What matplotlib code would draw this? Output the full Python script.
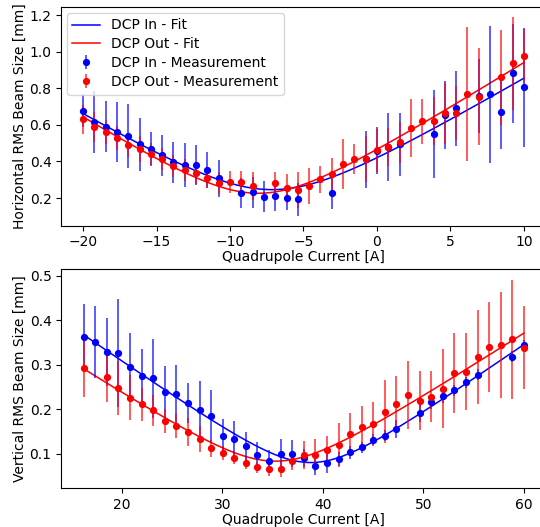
import matplotlib
matplotlib.use("Agg")
import matplotlib.pyplot as plt
import numpy as np

plt.rcParams.update({
    "font.family": "DejaVu Sans",
    "font.size": 10,
    "axes.labelsize": 10,
    "xtick.labelsize": 10,
    "ytick.labelsize": 10,
    "legend.fontsize": 10,
})

nan = np.nan

# ── horizontal scan ──────────────────────────────────────────────
h_current = [-20.0, -19.23, -18.46, -17.69, -16.92, -16.15, -15.38, -14.62,
             -13.85, -13.08, -12.31, -11.54, -10.77, -10.0, -9.23, -8.46,
             -7.69, -6.92, -6.15, -5.38, -4.62, -3.85, -3.08, -2.31, -1.54,
             -0.77, 0.0, 0.77, 1.54, 2.31, 3.08, 3.85, 4.62, 5.38, 6.15,
             6.92, 7.69, 8.46, 9.23, 10.0]
h_in = [0.677, 0.617, 0.590, 0.561, 0.537, 0.495, 0.468, 0.433, 0.395, 0.379,
        0.380, 0.353, 0.308, nan, 0.229, 0.231, 0.207, 0.213, 0.198, 0.193,
        nan, nan, 0.226, nan, nan, 0.411, 0.459, 0.480, 0.493, nan,
        nan, 0.550, 0.654, 0.690, nan, 0.757, 0.767, 0.672, 0.881, 0.805]
h_in_err = [0.09, 0.17, 0.14, 0.165, 0.175, 0.145, 0.095, 0.11, 0.112, 0.12,
            0.11, 0.10, 0.10, nan, 0.082, 0.084, 0.084, 0.082, 0.065, 0.09,
            nan, nan, 0.085, nan, nan, 0.158, 0.128, 0.185, 0.172, nan,
            nan, 0.242, 0.186, 0.203, nan, 0.20, 0.373, 0.204, 0.27, 0.326]
h_out = [0.630, 0.588, 0.561, 0.530, 0.490, 0.468, 0.439, 0.411, 0.377, 0.355,
         0.335, 0.308, 0.282, 0.289, 0.289, 0.267, nan, 0.280, 0.253, 0.242,
         0.266, 0.302, 0.331, 0.386, 0.411, 0.414, 0.462, 0.480, 0.504, 0.581,
         0.619, 0.622, 0.663, 0.663, 0.767, 0.754, nan, 0.860, 0.936, 0.976]
h_out_err = [0.08, 0.08, 0.065, 0.065, 0.065, 0.07, 0.06, 0.06, 0.06, 0.06,
             0.06, 0.055, 0.06, 0.06, 0.06, 0.075, nan, 0.06, 0.08, 0.098,
             0.10, 0.072, 0.087, 0.134, 0.082, 0.125, 0.117, 0.104, 0.11, 0.158,
             0.124, 0.13, 0.168, 0.148, 0.367, 0.266, nan, 0.26, 0.255, 0.15]

# ── vertical scan ────────────────────────────────────────────────
v_current = [16.2, 17.35, 18.51, 19.66, 20.81, 21.96, 23.12, 24.27, 25.42,
             26.57, 27.73, 28.88, 30.03, 31.18, 32.34, 33.49, 34.64, 35.79,
             36.95, 38.1, 39.25, 40.41, 41.56, 42.71, 43.86, 45.02, 46.17,
             47.32, 48.47, 49.63, 50.78, 51.93, 53.08, 54.24, 55.39, 56.54,
             57.69, 58.85, 60.0]
v_in = [0.361, 0.351, 0.328, 0.326, 0.294, 0.275, 0.269, 0.238, 0.234, 0.213,
        0.199, 0.184, 0.139, 0.133, 0.117, 0.097, 0.084, 0.099, 0.100, 0.090,
        0.072, 0.078, 0.088, 0.103, 0.114, 0.131, 0.140, 0.155, nan, 0.192,
        0.215, 0.229, 0.242, 0.260, 0.277, nan, nan, 0.318, 0.344]
v_in_err = [0.075, 0.081, 0.076, 0.121, 0.076, 0.059, 0.088, 0.059, 0.065, 0.045,
            0.064, 0.058, 0.039, 0.04, 0.032, 0.029, 0.025, 0.034, 0.03, 0.02,
            0.02, 0.022, 0.015, 0.015, 0.012, 0.012, 0.012, 0.02, nan, 0.02,
            0.015, 0.015, 0.012, 0.012, 0.012, nan, nan, 0.012, 0.012]
v_out = [0.292, nan, 0.272, 0.248, 0.226, 0.211, 0.197, 0.174, 0.163, 0.149,
         0.133, 0.112, 0.101, 0.089, 0.079, 0.069, 0.065, 0.066, 0.084, 0.097,
         0.096, 0.107, 0.119, 0.144, 0.160, 0.166, 0.194, 0.211, 0.232, 0.219,
         0.228, 0.246, 0.281, 0.284, 0.317, 0.340, 0.344, 0.357, 0.338]
v_out_err = [0.064, nan, 0.057, 0.061, 0.051, 0.037, 0.034, 0.027, 0.027, 0.031,
             0.029, 0.019, 0.015, 0.012, 0.014, 0.013, 0.015, 0.018, 0.02, 0.031,
             0.036, 0.033, 0.05, 0.047, 0.048, 0.05, 0.071, 0.064, 0.077, 0.067,
             0.057, 0.089, 0.09, 0.087, 0.105, 0.101, 0.118, 0.134, 0.093]


def beam_fit(x, y):
    """Fit sigma^2 = a I^2 + b I + c to the measured points."""
    x = np.asarray(x, float)
    y = np.asarray(y, float)
    ok = np.isfinite(y)
    coef = np.polyfit(x[ok], y[ok] ** 2, 2)
    xs = np.linspace(x.min(), x.max(), 300)
    return xs, np.sqrt(np.clip(np.polyval(coef, xs), 0, None))


def draw_panel(ax, x, y_in, e_in, y_out, e_out):
    xs, fin = beam_fit(x, y_in)
    ax.plot(xs, fin, color="blue", lw=1.1, label="DCP In - Fit")
    xs, fout = beam_fit(x, y_out)
    ax.plot(xs, fout, color="red", lw=1.1, label="DCP Out - Fit")
    ax.errorbar(x, y_in, yerr=e_in, fmt="o", color="blue", ms=4.2,
                ecolor=(0, 0, 1, 0.75), elinewidth=1.2,
                label="DCP In - Measurement")
    ax.errorbar(x, y_out, yerr=e_out, fmt="o", color="red", ms=4.2,
                ecolor=(1, 0, 0, 0.75), elinewidth=1.2,
                label="DCP Out - Measurement")
    ax.set_xlabel("Quadrupole Current [A]", labelpad=0.5)


fig = plt.figure(figsize=(5.4, 5.27), dpi=100)
ax_h = fig.add_axes([0.1135, 0.5717, 0.8976, 0.4144])
ax_v = fig.add_axes([0.1135, 0.0734, 0.8976, 0.4156])

draw_panel(ax_h, h_current, h_in, h_in_err, h_out, h_out_err)
ax_h.set_xlim(-21.48, 11.5)
ax_h.set_ylim(0.049, 1.242)
ax_h.set_xticks([-20, -15, -10, -5, 0, 5, 10])
ax_h.set_yticks([0.2, 0.4, 0.6, 0.8, 1.0, 1.2])
ax_h.set_ylabel("Horizontal RMS Beam Size [mm]", labelpad=2)
ax_h.legend(loc="upper left", borderaxespad=0.4, labelspacing=0.35,
            handletextpad=0.8, borderpad=0.4)

draw_panel(ax_v, v_current, v_in, v_in_err, v_out, v_out_err)
ax_v.set_xlim(13.98, 62.2)
ax_v.set_ylim(0.022, 0.514)
ax_v.set_xticks([20, 30, 40, 50, 60])
ax_v.set_yticks([0.1, 0.2, 0.3, 0.4, 0.5])
ax_v.set_ylabel("Vertical RMS Beam Size [mm]", labelpad=2)

fig.savefig("out.png", dpi=100)
